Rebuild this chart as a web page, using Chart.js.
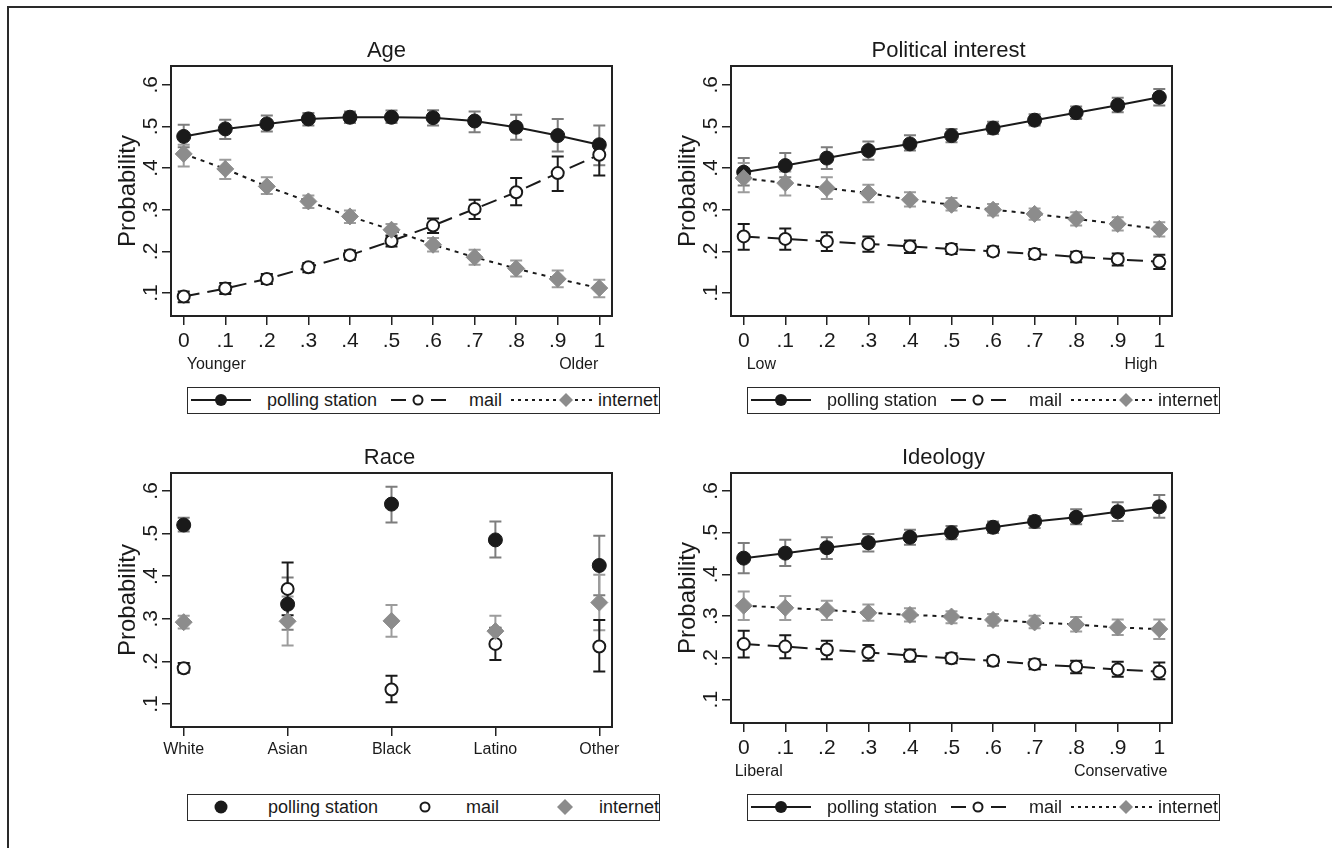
<!DOCTYPE html>
<html><head><meta charset="utf-8">
<script src="https://cdn.jsdelivr.net/npm/chart.js@4.4.1/dist/chart.umd.min.js"></script>
<style>
html,body{margin:0;padding:0;background:#fff;}
body{width:1332px;height:854px;position:relative;overflow:hidden;font-family:"Liberation Sans",Arial,Helvetica,sans-serif;color:#1a1a1a;}
#frame{position:absolute;left:7px;top:6px;width:1340px;height:840px;border-left:2px solid #2a2a2a;border-top:2px solid #2a2a2a;}
canvas{position:absolute;}
.lg{position:absolute;height:27px;border:1.5px solid #2a2a2a;box-sizing:border-box;background:#fff;}
.lg svg{position:absolute;left:0;top:0;}
.lg span{position:absolute;top:0;line-height:24px;font-size:18px;white-space:nowrap;}
</style></head><body>
<div id="frame"></div>
<canvas id="c1" width="540" height="360" style="left:100px;top:30px"></canvas>
<canvas id="c2" width="540" height="360" style="left:660px;top:30px"></canvas>
<canvas id="c3" width="540" height="360" style="left:100px;top:437px"></canvas>
<canvas id="c4" width="540" height="360" style="left:660px;top:437px"></canvas>
<div id="legends"></div>
<script>
// ---------- DATA ----------
const xValues = [0, .1, .2, .3, .4, .5, .6, .7, .8, .9, 1];
const xTickLabels = ['0', '.1', '.2', '.3', '.4', '.5', '.6', '.7', '.8', '.9', '1'];
const yTickValues = [.1, .2, .3, .4, .5, .6];
const yTickLabels = ['.1', '.2', '.3', '.4', '.5', '.6'];
const seriesNames = ['polling station', 'mail', 'internet'];
const panelTitles = ['Age', 'Political interest', 'Race', 'Ideology'];
const raceCategories = ['White', 'Asian', 'Black', 'Latino', 'Other'];
const raceX = [0, 1, 2, 3, 4];

// Age
const agePolling   = [0.476, 0.494, 0.506, 0.518, 0.522, 0.522, 0.521, 0.513, 0.498, 0.478, 0.456];
const agePollingLo = [0.450, 0.470, 0.488, 0.502, 0.508, 0.508, 0.502, 0.486, 0.468, 0.440, 0.407];
const agePollingHi = [0.504, 0.516, 0.526, 0.532, 0.536, 0.538, 0.539, 0.536, 0.528, 0.518, 0.502];
const ageMail      = [0.092, 0.111, 0.134, 0.162, 0.191, 0.225, 0.262, 0.302, 0.342, 0.388, 0.432];
const ageMailLo    = [0.078, 0.098, 0.122, 0.150, 0.180, 0.212, 0.244, 0.278, 0.311, 0.345, 0.382];
const ageMailHi    = [0.104, 0.124, 0.146, 0.172, 0.202, 0.238, 0.279, 0.324, 0.376, 0.428, 0.460];
const ageNet       = [0.434, 0.398, 0.356, 0.320, 0.284, 0.252, 0.216, 0.186, 0.159, 0.134, 0.112];
const ageNetLo     = [0.404, 0.374, 0.338, 0.304, 0.268, 0.236, 0.200, 0.168, 0.140, 0.114, 0.090];
const ageNetHi     = [0.456, 0.420, 0.378, 0.334, 0.298, 0.266, 0.232, 0.204, 0.178, 0.154, 0.132];

// Political interest
const intPolling   = [0.390, 0.406, 0.424, 0.442, 0.458, 0.478, 0.496, 0.515, 0.533, 0.551, 0.570];
const intPollingLo = [0.358, 0.378, 0.398, 0.420, 0.442, 0.462, 0.482, 0.502, 0.518, 0.534, 0.550];
const intPollingHi = [0.424, 0.436, 0.450, 0.464, 0.479, 0.494, 0.511, 0.529, 0.548, 0.569, 0.590];
const intMail      = [0.236, 0.230, 0.224, 0.218, 0.212, 0.206, 0.200, 0.194, 0.187, 0.181, 0.175];
const intMailLo    = [0.204, 0.204, 0.201, 0.199, 0.196, 0.194, 0.190, 0.182, 0.174, 0.166, 0.158];
const intMailHi    = [0.266, 0.255, 0.246, 0.236, 0.226, 0.218, 0.212, 0.206, 0.199, 0.195, 0.192];
const intNet       = [0.376, 0.364, 0.352, 0.340, 0.324, 0.312, 0.300, 0.290, 0.278, 0.266, 0.254];
const intNetLo     = [0.342, 0.334, 0.326, 0.318, 0.308, 0.298, 0.286, 0.276, 0.262, 0.250, 0.236];
const intNetHi     = [0.412, 0.392, 0.378, 0.360, 0.342, 0.328, 0.314, 0.303, 0.294, 0.282, 0.270];

// Race
const racePolling   = [0.520, 0.334, 0.569, 0.485, 0.425];
const racePollingLo = [0.505, 0.274, 0.526, 0.444, 0.355];
const racePollingHi = [0.537, 0.397, 0.610, 0.528, 0.495];
const raceMail      = [0.184, 0.370, 0.134, 0.241, 0.235];
const raceMailLo    = [0.174, 0.308, 0.104, 0.203, 0.176];
const raceMailHi    = [0.196, 0.432, 0.166, 0.279, 0.297];
const raceNet       = [0.292, 0.294, 0.295, 0.271, 0.338];
const raceNetLo     = [0.277, 0.237, 0.258, 0.237, 0.273];
const raceNetHi     = [0.307, 0.352, 0.332, 0.307, 0.403];

// Ideology
const ideoPolling   = [0.439, 0.451, 0.464, 0.476, 0.489, 0.500, 0.513, 0.527, 0.537, 0.550, 0.562];
const ideoPollingLo = [0.403, 0.420, 0.437, 0.455, 0.471, 0.484, 0.499, 0.511, 0.520, 0.528, 0.536];
const ideoPollingHi = [0.475, 0.483, 0.489, 0.497, 0.507, 0.516, 0.527, 0.540, 0.556, 0.573, 0.590];
const ideoMail      = [0.233, 0.227, 0.220, 0.213, 0.206, 0.199, 0.193, 0.185, 0.179, 0.172, 0.167];
const ideoMailLo    = [0.201, 0.199, 0.197, 0.193, 0.191, 0.187, 0.181, 0.173, 0.163, 0.155, 0.149];
const ideoMailHi    = [0.265, 0.254, 0.241, 0.231, 0.220, 0.211, 0.203, 0.197, 0.193, 0.191, 0.189];
const ideoNet       = [0.325, 0.320, 0.315, 0.308, 0.303, 0.299, 0.291, 0.285, 0.280, 0.273, 0.269];
const ideoNetLo     = [0.291, 0.291, 0.291, 0.289, 0.287, 0.283, 0.277, 0.271, 0.263, 0.255, 0.245];
const ideoNetHi     = [0.359, 0.348, 0.337, 0.328, 0.319, 0.312, 0.305, 0.301, 0.298, 0.292, 0.292];

const endLabels = { age: ['Younger', 'Older'], interest: ['Low', 'High'], ideology: ['Liberal', 'Conservative'] };

// ---------- STYLE ----------
const FAM = '"Liberation Sans", Arial, Helvetica, sans-serif';
const INK = '#1a1a1a';
const NET_FILL = '#8c8c8c';
const CI_POLL = '#7d7d7d';
const CI_NET = '#9c9c9c';
const CI_MAIL = '#1a1a1a';
Chart.defaults.font.family = FAM;
Chart.defaults.color = INK;

function pts(xs, ys) { return xs.map((v, i) => ({ x: v, y: ys[i] })); }

function makePanel(id, o) {
  const plugin = {
    id: 'ci_' + id,
    beforeDatasetsDraw(chart) {
      const { ctx, chartArea: a, scales: { x, y } } = chart;
      ctx.save();
      ctx.lineWidth = 2; ctx.strokeStyle = '#222';
      ctx.strokeRect(a.left, a.top, a.right - a.left, a.bottom - a.top);
      o.ci.forEach(s => {
        ctx.strokeStyle = s.color; ctx.lineWidth = 2;
        s.lo.forEach((lo, i) => {
          const px = x.getPixelForValue(o.xs[i]);
          const p1 = y.getPixelForValue(lo), p2 = y.getPixelForValue(s.hi[i]);
          ctx.beginPath();
          ctx.moveTo(px, p1); ctx.lineTo(px, p2);
          ctx.moveTo(px - 6, p1); ctx.lineTo(px + 6, p1);
          ctx.moveTo(px - 6, p2); ctx.lineTo(px + 6, p2);
          ctx.stroke();
        });
      });
      ctx.restore();
    },
    afterDraw(chart) {
      const { ctx, chartArea: a, scales: { x } } = chart;
      ctx.save();
      ctx.fillStyle = INK; ctx.textBaseline = 'middle';
      // panel title
      ctx.font = '22px ' + FAM; ctx.textAlign = 'center';
      ctx.fillText(o.title, (a.left + a.right) / 2 + o.titleOff, a.top - 15);
      if (o.ends) {
        ctx.font = '16px ' + FAM;
        ctx.textAlign = 'left';
        ctx.fillText(o.ends[0], x.getPixelForValue(0) + o.endOff[0], a.bottom + 49);
        ctx.textAlign = 'right';
        ctx.fillText(o.ends[1], x.getPixelForValue(1) + o.endOff[1], a.bottom + 49);
      }
      ctx.restore();
    }
  };
  const line = o.lines;
  const datasets = [
    { label: seriesNames[0], data: pts(o.xs, o.poll), showLine: line, borderColor: INK, borderWidth: 2,
      pointStyle: 'circle', pointRadius: 7, pointBackgroundColor: INK, pointBorderColor: INK, pointBorderWidth: 1, order: 3 },
    { label: seriesNames[1], data: pts(o.xs, o.mail), showLine: line, borderColor: INK, borderWidth: 2, borderDash: [16, 8],
      pointStyle: 'circle', pointRadius: 6, pointBackgroundColor: '#fff', pointBorderColor: INK, pointBorderWidth: 2, order: 2 },
    { label: seriesNames[2], data: pts(o.xs, o.net), showLine: line, borderColor: INK, borderWidth: 2, borderDash: [4, 5],
      pointStyle: 'rectRot', pointRadius: 8.5, pointBackgroundColor: NET_FILL, pointBorderColor: NET_FILL, pointBorderWidth: 1, order: 1 }
  ];
  return new Chart(document.getElementById(id), {
    type: 'scatter',
    data: { datasets },
    options: {
      responsive: false, animation: false, devicePixelRatio: 1,
      layout: { padding: { left: 0, right: 28, top: 36, bottom: 0 } },
      plugins: { legend: { display: false }, tooltip: { enabled: false }, title: { display: false } },
      scales: {
        x: {
          type: 'linear', position: 'bottom', min: o.xMin, max: o.xMax,
          afterBuildTicks: s => { s.ticks = o.xs.map(v => ({ value: v })); },
          afterFit: s => { s.height = o.xAxisH; },
          grid: { drawOnChartArea: false, drawTicks: true, tickLength: 9, color: '#222', lineWidth: 1.5 },
          border: { display: false },
          ticks: { autoSkip: false, maxRotation: 0, minRotation: 0, padding: o.xPad, color: INK,
                   font: { size: o.xFont, family: FAM }, callback: (v, i) => o.xLabels[i] }
        },
        y: {
          type: 'linear', position: 'left', min: o.yMin, max: o.yMax,
          afterBuildTicks: s => { s.ticks = yTickValues.map(v => ({ value: v })); },
          afterFit: s => { s.width = 71; },
          grid: { drawOnChartArea: false, drawTicks: true, tickLength: 9, color: '#222', lineWidth: 1.5 },
          border: { display: false },
          ticks: { autoSkip: false, minRotation: 90, maxRotation: 90, crossAlign: 'center', padding: 2, color: INK,
                   font: { size: 21, family: FAM }, callback: (v, i) => yTickLabels[i] },
          title: { display: true, text: 'Probability', color: INK, font: { size: 24, family: FAM }, padding: { top: 13.6, bottom: 0 } }
        }
      }
    },
    plugins: [plugin]
  });
}

makePanel('c1', { title: panelTitles[0], titleOff: -5, xs: xValues, xLabels: xTickLabels, xMin: -0.0306, xMax: 1.0306, yMin: 0.045, yMax: 0.645,
  xAxisH: 74, xPad: 4, xFont: 21, lines: true, poll: agePolling, mail: ageMail, net: ageNet,
  ci: [{ lo: agePollingLo, hi: agePollingHi, color: CI_POLL }, { lo: ageNetLo, hi: ageNetHi, color: CI_NET }, { lo: ageMailLo, hi: ageMailHi, color: CI_MAIL }],
  ends: endLabels.age, endOff: [3, -1] });
makePanel('c2', { title: panelTitles[1], titleOff: -3, xs: xValues, xLabels: xTickLabels, xMin: -0.0306, xMax: 1.0306, yMin: 0.045, yMax: 0.645,
  xAxisH: 74, xPad: 4, xFont: 21, lines: true, poll: intPolling, mail: intMail, net: intNet,
  ci: [{ lo: intPollingLo, hi: intPollingHi, color: CI_POLL }, { lo: intNetLo, hi: intNetHi, color: CI_NET }, { lo: intMailLo, hi: intMailHi, color: CI_MAIL }],
  ends: endLabels.interest, endOff: [3, -2] });
makePanel('c3', { title: panelTitles[2], titleOff: -2, xs: raceX, xLabels: raceCategories, xMin: -0.1224, xMax: 4.1224, yMin: 0.046, yMax: 0.642,
  xAxisH: 70, xPad: 4.4, xFont: 16, lines: false, poll: racePolling, mail: raceMail, net: raceNet,
  ci: [{ lo: racePollingLo, hi: racePollingHi, color: CI_POLL }, { lo: raceNetLo, hi: raceNetHi, color: CI_NET }, { lo: raceMailLo, hi: raceMailHi, color: CI_MAIL }],
  ends: null });
makePanel('c4', { title: panelTitles[3], titleOff: -8, xs: xValues, xLabels: xTickLabels, xMin: -0.0306, xMax: 1.0306, yMin: 0.044, yMax: 0.643,
  xAxisH: 74, xPad: 4, xFont: 21, lines: true, poll: ideoPolling, mail: ideoMail, net: ideoNet,
  ci: [{ lo: ideoPollingLo, hi: ideoPollingHi, color: CI_POLL }, { lo: ideoNetLo, hi: ideoNetHi, color: CI_NET }, { lo: ideoMailLo, hi: ideoMailHi, color: CI_MAIL }],
  ends: endLabels.ideology, endOff: [-9, 8] });

// ---------- LEGENDS ----------
function diamond(cx, cy, r, fill) {
  return `<polygon points="${cx - r},${cy} ${cx},${cy - r} ${cx + r},${cy} ${cx},${cy + r}" fill="${fill}"/>`;
}
function legendHTML(left, top, withLines) {
  let svg = `<svg width="472" height="24">`;
  if (withLines) {
    svg += `<line x1="3" y1="12" x2="63" y2="12" stroke="${INK}" stroke-width="2"/>`;
    svg += `<circle cx="33" cy="12" r="6" fill="${INK}"/>`;
    svg += `<line x1="203" y1="12" x2="218" y2="12" stroke="${INK}" stroke-width="2"/>`;
    svg += `<line x1="243" y1="12" x2="258" y2="12" stroke="${INK}" stroke-width="2"/>`;
    svg += `<circle cx="230" cy="12" r="4.5" fill="#fff" stroke="${INK}" stroke-width="2"/>`;
    svg += `<line x1="323" y1="12" x2="370" y2="12" stroke="${INK}" stroke-width="2" stroke-dasharray="3,4"/>`;
    svg += `<line x1="387" y1="12" x2="406" y2="12" stroke="${INK}" stroke-width="2" stroke-dasharray="3,4"/>`;
    svg += diamond(378, 12, 7, NET_FILL);
    svg += `</svg>`;
    return `<div class="lg" style="left:${left}px;top:${top}px;width:473px">${svg}` +
      `<span style="left:79px">${seriesNames[0]}</span><span style="left:281px">${seriesNames[1]}</span><span style="left:410px">${seriesNames[2]}</span></div>`;
  }
  svg += `<circle cx="33" cy="12" r="6.5" fill="${INK}"/>`;
  svg += `<circle cx="237" cy="12" r="4.5" fill="#fff" stroke="${INK}" stroke-width="2"/>`;
  svg += diamond(377, 12, 8, NET_FILL);
  svg += `</svg>`;
  return `<div class="lg" style="left:${left}px;top:${top}px;width:473px">${svg}` +
    `<span style="left:80px">${seriesNames[0]}</span><span style="left:278px">${seriesNames[1]}</span><span style="left:411px">${seriesNames[2]}</span></div>`;
}
document.getElementById('legends').innerHTML =
  legendHTML(187, 387, true) + legendHTML(747, 387, true) + legendHTML(187, 794, false) + legendHTML(747, 794, true);
</script>
</body></html>
